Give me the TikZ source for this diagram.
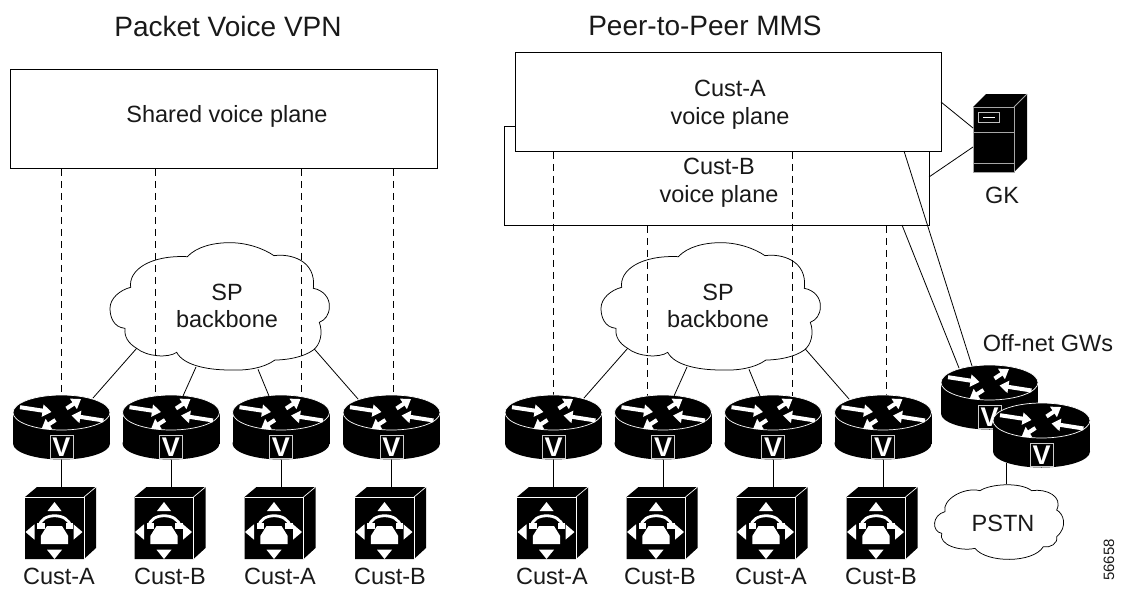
\documentclass[tikz,border=0pt]{standalone}
\usepackage{fontspec}
\setmainfont{Liberation Sans}
\usetikzlibrary{arrows.meta}
\tikzset{
  lnk/.style={draw=black,line width=0.8pt},
  dashlnk/.style={draw=black,line width=0.8pt,dash pattern=on 7pt off 5pt},
  plane/.style={draw=black,fill=white,line width=0.9pt,inner sep=0pt,anchor=north west},
  txt/.style={font=\fontsize{23.5}{27.5}\selectfont,align=center,inner sep=0pt,text=black!90},
  ttl/.style={font=\fontsize{28}{32}\selectfont,inner sep=0pt,text=black!90},
  wa/.style={draw=white,line width=4pt,-{Triangle[length=9pt,width=12pt]}},
  edge/.style={draw=white,line width=0.7pt},
  router/.pic={
    \fill[black] (-48.5,0) rectangle (48.5,31);
    \fill[black] (0,31) circle[x radius=48.5,y radius=16];
    \fill[black] (0,0) circle[x radius=48.5,y radius=17.5];
    \draw[edge] (0,0) circle[x radius=48.5,y radius=17.5];
    \draw[wa] (-41.5,-5.3) -- (-10,-0.5);
    \draw[wa] (5,-4) -- (19.5,-13.5);
    \draw[wa] (42,8) -- (10,3);
    \draw[wa] (-6,7.5) -- (-20,16.5);
    \node[draw=black!20,line width=0.9pt,fill=black,text=white,minimum width=23pt,minimum height=23pt,inner sep=0pt,font=\fontsize{27}{27}\selectfont\bfseries] (-v) at (0,34.5) {V};
    \coordinate (-base) at (0,47);
  },
  phone/.pic={
    \fill[black] (-29.5,-35) -- (-17.5,-45) -- (41.5,-45) -- (41.5,16) -- (29.5,27) -- (-29.5,27) -- cycle;
    \draw[edge] (-29.5,-35) -- (29.5,-35) -- (29.5,27);
    \draw[edge] (29.5,-35) -- (41.5,-45);
    \fill[white] (0,-30) -- (7,-21) -- (-7,-21) -- cycle;
    \fill[white] (0,27) -- (7.5,17.7) -- (-7.5,17.7) -- cycle;
    \fill[white] (-29,0) -- (-20,-7.7) -- (-20,7.7) -- cycle;
    \fill[white] (28,0) -- (19,-7.7) -- (19,7.7) -- cycle;
    \fill[white] (-7.5,-6) -- (7.5,-6) -- (13.7,4) -- (13.7,12) -- (-13.7,12) -- (-13.7,4) -- cycle;
    \draw[white,line width=2.8pt] (-15,-5) .. controls (-15,-20) and (15,-20) .. (16,-5);
    \fill[white] (-17.5,-9) rectangle (-10,-3);
    \fill[white] (11,-9) rectangle (18.5,-3);
    \coordinate (-top) at (7,-45);
  },
  spcloud/.pic={
    \draw[lnk,line width=0.75pt,scale=1/3] (262,50) .. controls (290,20) and (340,8) .. (390,8)
      .. controls (440,8) and (490,25) .. (522,47)
      .. controls (570,40) and (650,60) .. (640,145)
      .. controls (670,150) and (690,175) .. (688,200)
      .. controls (688,225) and (675,240) .. (658,247)
      .. controls (670,280) and (660,315) .. (640,330)
      .. controls (610,352) and (560,360) .. (525,360)
      .. controls (490,385) and (440,392) .. (390,390)
      .. controls (320,390) and (250,375) .. (230,337)
      .. controls (205,355) and (140,350) .. (110,325)
      .. controls (85,310) and (72,290) .. (75,265)
      .. controls (40,262) and (30,230) .. (30,205)
      .. controls (30,175) and (60,150) .. (92,142)
      .. controls (85,90) and (150,45) .. (262,50) -- cycle;
    \coordinate (-a) at (36.7,108.3);
    \coordinate (-b) at (96,127);
    \coordinate (-c) at (158,129.3);
    \coordinate (-d) at (214.3,109);
  },
}
\begin{document}
\begin{tikzpicture}[x=1pt,y=-1pt]
\useasboundingbox (0,0) rectangle (1125,589);

% titles
\node[ttl] (t1) at (228,26) {Packet Voice VPN};
\node[ttl] (t2) at (705,26) {Peer-to-Peer MMS};

% dashed end coordinates
\coordinate (da) at (61,397);
\coordinate (db) at (155,397);
\coordinate (dc) at (301,397);
\coordinate (dd) at (393,397);
\coordinate (de) at (553,397);
\coordinate (df) at (647,397);
\coordinate (dg) at (792,397);
\coordinate (dh) at (886,397);

% planes
\node[plane,minimum width=427pt,minimum height=99pt] (shared) at (10,69) {};
\node[txt] (sharedt) at (227,116) {Shared voice plane};
\node[plane,minimum width=425pt,minimum height=99pt] (planeb) at (504,126) {};
\node[plane,minimum width=426pt,minimum height=99pt,anchor=north west] (planea) at (515,52) {};

\draw[dashlnk] (shared.south -| da) -- (da);
\draw[dashlnk] (shared.south -| db) -- (db);
\draw[dashlnk] (shared.south -| dc) -- (dc);
\draw[dashlnk] (shared.south -| dd) -- (dd);
\draw[dashlnk] (planea.south -| de) -- (de);
\draw[dashlnk] (planeb.south -| df) -- (df);
\draw[dashlnk] (planea.south -| dg) -- (dg);
\draw[dashlnk] (planeb.south -| dh) -- (dh);

\node[txt] (bt) at (719,182.5) {Cust-B\\voice plane};
\node[txt] (at) at (730,104.5) {Cust-A\\voice plane};

% clouds
\pic (c1) at (100,240) {spcloud};
\pic (c2) at (591,240) {spcloud};
\node[txt] (c1t) at (227,306) {SP\\backbone};
\node[txt] (c2t) at (718,306) {SP\\backbone};

% routers
\foreach \n/\x in {r1/61.5,r2/171,r3/281,r4/391.5,r5/553.5,r6/663,r7/773,r8/883}{
  \pic (\n) at (\x,412.5) {router};
}
\pic (g1) at (989.5,382.5) {router};
\pic (g2) at (1041.5,420.5) {router};

% phones
\foreach \n/\x in {p1/61.5,p2/171,p3/281,p4/391.5,p5/553.5,p6/663,p7/773,p8/883}{
  \pic (\n) at (\x-7,532) {phone};
}
\foreach \i in {1,...,8}{
  \draw[lnk] (r\i-base) -- (p\i-top);
}

% cloud to router links
\coordinate (e1) at (93,398);
\coordinate (e2) at (183,396);
\coordinate (e3) at (269,396);
\coordinate (e4) at (358,399);
\coordinate (e5) at (584,398);
\coordinate (e6) at (674,396);
\coordinate (e7) at (760,396);
\coordinate (e8) at (849,399);
\draw[lnk] (c1-a) -- (e1);
\draw[lnk] (c1-b) -- (e2);
\draw[lnk] (c1-c) -- (e3);
\draw[lnk] (c1-d) -- (e4);
\draw[lnk] (c2-a) -- (e5);
\draw[lnk] (c2-b) -- (e6);
\draw[lnk] (c2-c) -- (e7);
\draw[lnk] (c2-d) -- (e8);

% customer labels
\foreach \n/\x/\t in {l1/59/Cust-A,l2/170/Cust-B,l3/280/Cust-A,l4/390/Cust-B,l5/552/Cust-A,l6/660/Cust-B,l7/771/Cust-A,l8/881/Cust-B}{
  \node[txt] (\n) at (\x,576) {\t};
}

% GK
\node[inner sep=0pt,minimum width=41pt,minimum height=65pt,anchor=north west] (gk) at (973,107) {};
\fill[black] (973,107) -- (986,94) -- (1027,94) -- (1027,159) -- (1014,172) -- (973,172) -- cycle;
\draw[draw=black!35,line width=0.9pt] (973,172) -- (973,107) -- (1014,107) -- (1014,172) -- cycle;
\draw[draw=black!35,line width=0.9pt] (1014,107) -- (1027,94);
\draw[draw=black!35,line width=0.9pt] (973,132) -- (1014,132);
\draw[draw=black!35,line width=0.9pt] (973,163) -- (1014,163);
\draw[draw=black!25,line width=0.8pt] (978,112.5) rectangle (999,122);
\draw[draw=white,line width=0.9pt] (983,117) -- (995,117);
\node[txt] (gkt) at (1002,195) {GK};

\coordinate (ga) at (973,128);
\coordinate (gb) at (973,147);
\coordinate (pa) at (941,102);
\coordinate (pb) at (929,177);
\draw[lnk] (pa) -- (ga);
\draw[lnk] (pb) -- (gb);

% links to off-net gateways
\coordinate (oa) at (904,151);
\coordinate (ob) at (972,366);
\coordinate (oc) at (902,225);
\coordinate (od) at (959,368);
\draw[lnk] (oa) -- (ob);
\draw[lnk] (oc) -- (od);
\node[txt] (gwt) at (1048,343) {Off-net GWs};

% PSTN
\draw[lnk,line width=0.75pt,shift={(900,340)},scale=1/3] (240,452) .. controls (270,432) and (360,425) .. (395,452)
  .. controls (440,445) and (490,470) .. (470,510)
  .. controls (490,520) and (505,560) .. (470,590)
  .. controls (475,610) and (450,625) .. (430,620)
  .. controls (400,670) and (260,670) .. (225,625)
  .. controls (180,635) and (115,615) .. (125,580)
  .. controls (95,575) and (95,525) .. (135,515)
  .. controls (125,480) and (190,440) .. (240,452) -- cycle;
\coordinate (ps) at (1006,484);
\coordinate (gf) at (1006,463);
\draw[lnk] (gf) -- (ps);
\node[txt] (pt) at (1003,523) {PSTN};

\node[inner sep=0pt,rotate=90,font=\fontsize{15}{15}\selectfont,text=black!90] (num) at (1109,560) {56658};
\end{tikzpicture}
\end{document}
